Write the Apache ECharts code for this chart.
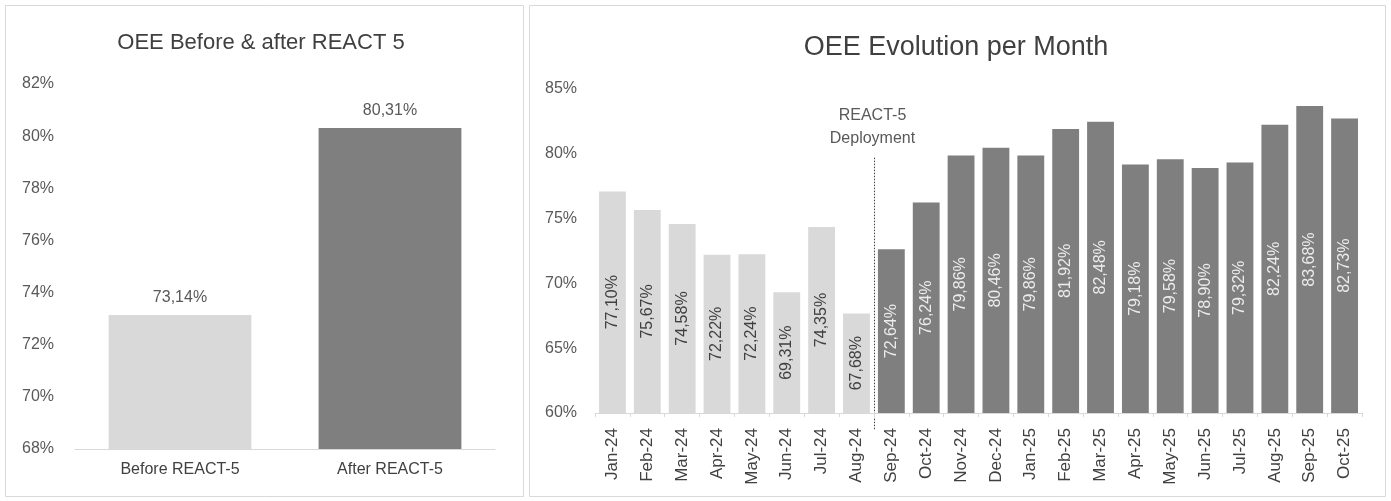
<!DOCTYPE html>
<html>
<head>
<meta charset="utf-8">
<script src="https://cdn.jsdelivr.net/npm/echarts@6/dist/echarts.min.js"></script>
<style>
html,body{margin:0;padding:0;background:#fff;}
#c{width:1391px;height:501px;}
</style>
</head>
<body>
<div id="c"></div>
<script>
// ---- data ----
const summaryCategories = ["Before REACT-5", "After REACT-5"];
const summaryValues = [73.14, 80.31];
const summaryTicks = { min: 68, max: 82, interval: 2 };

const months = ["Jan-24","Feb-24","Mar-24","Apr-24","May-24","Jun-24","Jul-24","Aug-24",
  "Sep-24","Oct-24","Nov-24","Dec-24","Jan-25","Feb-25","Mar-25","Apr-25","May-25","Jun-25",
  "Jul-25","Aug-25","Sep-25","Oct-25"];
const monthlyValues = [77.10,75.67,74.58,72.22,72.24,69.31,74.35,67.68,
  72.64,76.24,79.86,80.46,79.86,81.92,82.48,79.18,79.58,78.90,79.32,82.24,83.68,82.73];
const monthlyTicks = { min: 60, max: 85, interval: 5 };
const deploymentIndex = 8; // first month after REACT-5 deployment
const deploymentLabel = "REACT-5\nDeployment";

// ---- styles ----
const LIGHT = "#d9d9d9", DARK = "#7f7f7f", TXT = "#595959", FONT = "Liberation Sans, Arial, sans-serif";
const fmt = v => v.toFixed(2).replace('.', ',') + '%';

const chart = echarts.init(document.getElementById('c'), null, { renderer: 'canvas' });

const option = {
  backgroundColor: '#fff',
  animation: false,
  textStyle: { fontFamily: FONT },
  title: [
    { text: 'OEE Before & after REACT 5', left: 256, top: 27, textAlign: 'center',
      textStyle: { fontSize: 22, fontWeight: 'normal', color: '#404040', fontFamily: FONT } },
    { text: 'OEE Evolution per Month', left: 951, top: 29, textAlign: 'center',
      textStyle: { fontSize: 27, fontWeight: 'normal', color: '#404040', fontFamily: FONT } }
  ],
  grid: [
    { left: 75, right: 1391 - 495, top: 84, bottom: 501 - 449, containLabel: false },
    { left: 595, right: 1391 - 1362, top: 89, bottom: 501 - 413, containLabel: false }
  ],
  xAxis: [
    { type: 'category', gridIndex: 0, data: summaryCategories,
      axisLine: { lineStyle: { color: LIGHT } }, axisTick: { show: false },
      axisLabel: { color: '#404040', fontSize: 16, margin: 13, fontFamily: FONT } },
    { type: 'category', gridIndex: 1, data: months,
      axisLine: { lineStyle: { color: LIGHT } },
      axisTick: { show: true, length: 4, lineStyle: { color: LIGHT } },
      axisLabel: { color: '#404040', fontSize: 17, rotate: 90, margin: 15, fontFamily: FONT } }
  ],
  yAxis: [
    { type: 'value', gridIndex: 0, min: summaryTicks.min, max: summaryTicks.max, interval: summaryTicks.interval,
      splitLine: { show: false }, axisLine: { show: false }, axisTick: { show: false },
      axisLabel: { formatter: '{value}%', color: TXT, fontSize: 16, margin: 21, fontFamily: FONT } },
    { type: 'value', gridIndex: 1, min: monthlyTicks.min, max: monthlyTicks.max, interval: monthlyTicks.interval,
      splitLine: { show: false }, axisLine: { show: false }, axisTick: { show: false },
      axisLabel: { formatter: '{value}%', color: TXT, fontSize: 16, margin: 18, fontFamily: FONT } }
  ],
  series: [
    { type: 'bar', xAxisIndex: 0, yAxisIndex: 0, barWidth: '68%',
      data: summaryValues.map((v, i) => ({ value: v, itemStyle: { color: i === 0 ? LIGHT : DARK } })),
      label: { show: true, position: 'top', distance: 9, formatter: p => fmt(p.value),
        color: TXT, fontSize: 16, fontFamily: FONT } },
    { type: 'bar', xAxisIndex: 1, yAxisIndex: 1, barCategoryGap: '23%',
      data: monthlyValues.map((v, i) => ({
        value: v,
        itemStyle: { color: i < deploymentIndex ? LIGHT : DARK },
        label: { color: i < deploymentIndex ? '#404040' : '#ececec' }
      })),
      label: { show: true, position: 'inside', rotate: 90, formatter: p => fmt(p.value),
        fontSize: 16, fontFamily: FONT } }
  ],
  graphic: [
    { type: 'rect', shape: { x: 5.5, y: 5.5, width: 518, height: 491 },
      style: { fill: 'none', stroke: '#d9d9d9', lineWidth: 1 }, silent: true },
    { type: 'rect', shape: { x: 529.5, y: 5.5, width: 856, height: 491 },
      style: { fill: 'none', stroke: '#d9d9d9', lineWidth: 1 }, silent: true }
  ]
};
chart.setOption(option);

// deployment divider between last "before" month and first "after" month
const xa = chart.convertToPixel({ xAxisIndex: 1 }, months[deploymentIndex - 1]);
const xb = chart.convertToPixel({ xAxisIndex: 1 }, months[deploymentIndex]);
const xm = Math.round((xa + xb) / 2) + 0.5;
const yTop = chart.convertToPixel({ yAxisIndex: 1 }, 79.7);
const yBase = chart.convertToPixel({ yAxisIndex: 1 }, monthlyTicks.min);
chart.setOption({
  graphic: option.graphic.concat([
    { type: 'line', shape: { x1: xm, y1: yTop, x2: xm, y2: yBase + 17 },
      style: { stroke: '#404040', lineWidth: 1, lineDash: [1.5, 1.5] }, silent: true },
    { type: 'text', x: xm - 2, y: yTop - 54,
      style: { text: deploymentLabel, fill: TXT, font: '16px ' + FONT, textAlign: 'center', lineHeight: 23 },
      silent: true }
  ])
});
</script>
</body>
</html>
